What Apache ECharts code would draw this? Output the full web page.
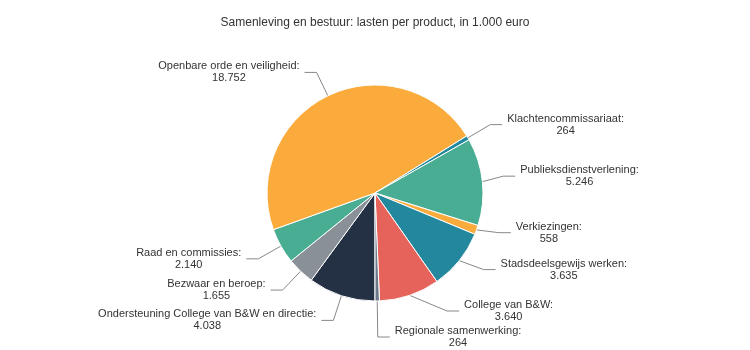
<!DOCTYPE html>
<html>
<head>
<meta charset="utf-8">
<script src="https://cdn.jsdelivr.net/npm/echarts@6/dist/echarts.min.js"></script>
<style>
html,body{margin:0;padding:0;background:#fff;}
#c{width:750px;height:350px;}
</style>
</head>
<body>
<div id="c"></div>
<script>
var titleText = 'Samenleving en bestuur: lasten per product, in 1.000 euro';
var categories = [
  'Ondersteuning College van B&W en directie',
  'Bezwaar en beroep',
  'Raad en commissies',
  'Openbare orde en veiligheid',
  'Klachtencommissariaat',
  'Publieksdienstverlening',
  'Verkiezingen',
  'Stadsdeelsgewijs werken',
  'College van B&W',
  'Regionale samenwerking'
];
var values = [4038, 1655, 2140, 18752, 264, 5246, 558, 3635, 3640, 264];
var colors = ['#243144', '#8a9098', '#48ad92', '#fbab3c', '#23889e', '#48ad92', '#fbab3c', '#23889e', '#e6635b', '#6c788a'];

function fmt(v) {
  return String(v).replace(/\B(?=(\d{3})+(?!\d))/g, '.');
}

var data = categories.map(function (n, i) {
  return { name: n, value: values[i], itemStyle: { color: colors[i] } };
});

var chart = echarts.init(document.getElementById('c'), null, { renderer: 'canvas' });
chart.setOption({
  animation: false,
  backgroundColor: '#fff',
  title: {
    text: titleText,
    left: 'center',
    top: 12,
    textStyle: { fontFamily: 'Liberation Sans, Arial, sans-serif', fontSize: 12, fontWeight: 'normal', color: '#333' }
  },
  series: [{
    type: 'pie',
    center: [375, 193],
    radius: 108,
    startAngle: 270,
    clockwise: true,
    minAngle: 0,
    avoidLabelOverlap: true,
    itemStyle: { borderColor: '#fff', borderWidth: 1 },
    label: {
      show: true,
      position: 'outside',
      fontFamily: 'Liberation Sans, Arial, sans-serif',
      fontSize: 11,
      color: '#333',
      lineHeight: 12,
      formatter: function (p) {
        return '{c|' + p.name + ':}\n{c|' + fmt(p.value) + '}';
      },
      rich: {
        c: { align: 'center', fontFamily: 'Liberation Sans, Arial, sans-serif', fontSize: 11, color: '#333', lineHeight: 12 }
      }
    },
    labelLine: {
      show: true,
      length: 26,
      length2: 12,
      lineStyle: { color: '#888', width: 1 }
    },
    data: data
  }]
});
</script>
</body>
</html>
